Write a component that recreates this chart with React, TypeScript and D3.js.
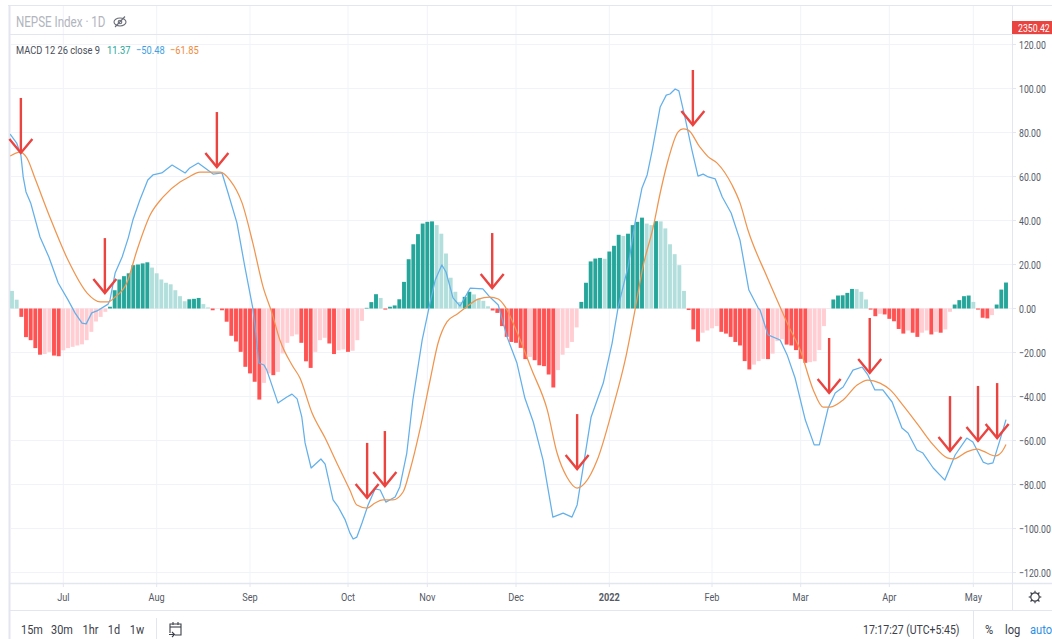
import React from "react";
import * as d3 from "d3";

const histogram = [
  8, 4, -3.8, -13, -14.4, -18, -21, -20.7, -19.7, -21.4,
  -21.7, -19, -18, -17.4, -16.8, -16.3, -14.4, -10.6, -5.9, -3.8,
  -1.5, 0.8, 8.3, 13.2, 14.7, 16, 19.7, 20, 20.5, 21,
  18.6, 16, 13.2, 11.7, 11, 8.3, 5.6, 3.3, 4.2, 4.4,
  4.8, 2, 0.5, -0.8, -0.1, -0.8, -6, -12.4, -15, -19.7,
  -26.5, -29.5, -33.3, -41.4, -33.8, -29.5, -30.3, -28.8, -20.4, -15.6,
  -12.6, -11.8, -15.6, -24, -27, -19.7, -14.4, -13.3, -15.9, -20.7,
  -19, -18.6, -19.7, -19.2, -14.4, -5.6, 0.3, 2.9, 6.5, 4.8,
  -0.5, 0.8, 1.4, 4.2, 12.1, 22.4, 29.2, 33.8, 38.6, 39.4,
  39.6, 37.9, 34, 25, 14, 7.6, 3, 5.3, 7.6, 6.4,
  4.4, 3.5, 1, -0.9, -2, -8, -12.9, -15.2, -15.6, -17.9,
  -23, -22, -23.5, -25.8, -26.2, -30, -35.9, -28, -21, -17.9,
  -15.2, -8.6, 3, 11.7, 21.4, 22.7, 23, 22.6, 25.9, 28.5,
  33.5, 33, 34, 37.9, 39.4, 41.3, 38.6, 37.9, 39.7, 39.6,
  36.4, 29.2, 24.7, 19.7, 8, -0.7, -9.5, -15, -11, -10,
  -9, -8, -10.6, -11.4, -12.9, -15.2, -16.8, -23.9, -27.7, -25.5,
  -23.9, -22.9, -23, -20.5, -14.8, -14, -16.4, -16.8, -18.9, -22.9,
  -24.7, -24.4, -24, -18.9, -8, -0.1, 4.1, 5.9, 6, 7.1,
  8.9, 8.8, 7.6, 4.1, -0.5, -3.5, -2.4, -2.7, -4.7, -5.8,
  -9.3, -11.4, -10, -11, -12.9, -11, -10, -11.8, -10.6, -11,
  -9.5, -1.5, 1.8, 3.8, 5.6, 5.9, 3, -0.5, -4.2, -4.5,
  -3, 1.8, 8.6, 11.8,
];

const macdBars = [
  -0.4, 1, 1.9, 2.4, 3, 4, 6, 7.9, 9.9, 12, 13.5, 15, 15.9, 17.1, 18.2, 20.6, 21, 22.1, 23.6, 24.9,
  25.9, 27.4, 29.1, 30.2, 32.1, 34.3, 37.1, 38.1, 39.9, 43.1, 45, 46.3, 48.2, 49.9, 51.6, 52.1, 52.9, 54, 54.6, 57,
  58.9, 60, 61.1, 62.1, 62.8, 64.1, 66.2, 67.1, 68.8, 69.9, 71.4, 72.4, 73.1, 73.9, 75, 76.3, 77.8, 78.9, 80.1, 82.1,
  83.1, 84.6, 85.9, 87.9, 89.4, 90.7, 92.1, 93, 94.5, 96, 98.2, 100.9, 102.4, 104.2, 106.1, 108.2, 109.9, 111.7, 113.8, 115.9,
  118.1, 120, 121.1, 122.4, 124.1, 126.7, 128.6, 129.9, 132, 133.5, 135, 136.1, 137.2, 138.9, 140.2, 141, 142.1, 142.9, 144.2, 145.7,
  147, 148.1, 149.2, 150.7, 152.2, 154.1, 156, 157.9, 159.9, 160.3, 162, 164.6, 166.1, 167.8, 170, 171.9, 173, 174.9, 176.4, 178.1,
  180.2, 182.2, 183.4, 184.9, 186.6, 188.6, 190.7, 192, 193.9, 195.2, 197.4, 199.9, 202.1, 204.6, 205.9, 208.1, 209.1, 210.2, 211.7, 213,
];
const macdValues = [
  79.3, 75.2, 69.8, 59.8, 53, 48, 32.5, 23.4, 11.6, 3.9, -2, -6.6, -7, -2, -1.1, 2, 3.9, 16.1, 23.4, 32,
  40.2, 49.3, 58.4, 60.7, 61.6, 65.2, 61.6, 63.9, 66.1, 61.1, 61.6, 52.5, 38.9, 18.9, 0.2, -8.4, -24.8, -25.7, -28, -43,
  -40.2, -38.9, -41.1, -49.3, -61.1, -72.5, -68.4, -70.7, -87, -90.2, -96.1, -102, -104.8, -103.9, -97.5, -89.3, -82, -82.5, -88, -85.7,
  -81.1, -65.7, -41.6, -14.3, 0.7, 13, 19.8, 16.6, 4.8, 1.1, 9.3, 8.9, 5.2, 1.6, -13, -24.8, -40.7, -51.6, -68.9, -94.8,
  -93, -94.8, -89.3, -72, -49.3, -33.9, -15.7, 0.7, 18.9, 38.9, 54.8, 60.7, 72, 91.6, 97, 97.5, 99.8, 98.9, 87, 72,
  60.2, 61.1, 59.8, 58.9, 50.7, 43.4, 31.1, 8.4, 0.2, -0.7, -12, -14.3, -21.1, -31.6, -50.7, -62, -62, -45.2, -38.4, -35.7,
  -28, -26.6, -30.2, -37, -37, -42.5, -54.3, -56.6, -64.3, -65.7, -72.5, -78, -66.6, -58.9, -60.7, -69.8, -70.7, -70.2, -59.8, -50.48,
];

const signalBars = [
  -0.4, 1.7, 3.2, 4.9, 8.1, 12, 16.1, 18.9, 20.6, 22.1, 24.6, 26.8, 29.6, 32.4, 36, 37.5, 40.3, 44.6, 46.7, 49.3,
  51.6, 53.8, 55.7, 57.4, 60, 61.7, 64.3, 67.1, 69.6, 72.4, 73.9, 76.1, 77.8, 79.5, 81.6, 83.8, 85.3, 87.4, 89.6, 91.3,
  93.2, 95.4, 97.1, 99.9, 102.4, 104.2, 105.7, 108.2, 111.4, 114.7, 116.8, 118.9, 121.1, 122.8, 125.4, 128.8, 131.4, 133.5, 135.2, 137.4,
  138.9, 140.6, 142.7, 143.8, 144.9, 147.4, 149.2, 151.1, 154.3, 156, 157.7, 161.8, 164.6, 166.3, 168.9, 171.7, 173.8, 175.3, 178.1, 181.1,
  183.4, 186, 188.2, 190.9, 194.2, 197.4, 200.4, 201.7, 204.6, 206.8, 208.1, 210.7, 212.1, 213,
];
const signalValues = [
  69.3, 71.1, 68.4, 59.3, 41.6, 22, 7, 3, 3, 5.2, 11.6, 26.6, 42.5, 50.7, 57.5, 59.3, 62, 62, 58.4, 48,
  29.8, 9.8, -2, -14.3, -25.7, -31.6, -47.5, -58.9, -70.2, -82.5, -89.3, -90.7, -88.4, -87, -87, -83.4, -73.4, -55.2, -32.5, -15.7,
  -6.1, -2.5, 0.2, 4.3, 5.2, 4.3, 0.7, -10.7, -28, -46.1, -65.7, -76.6, -81.6, -79.3, -68.9, -44.8, -23.4, -0.7, 18.9, 37,
  52.5, 67.5, 80.2, 81.6, 81.1, 73.4, 68.9, 66.1, 56.1, 48, 35.7, 14.3, 0.7, -7.5, -18.9, -37, -44.8, -44.8, -41.6, -34.8,
  -32.5, -33.9, -37, -43.9, -53, -62, -67.9, -68.4, -65.2, -63.9, -64.8, -67, -65.2, -61.85,
];

const arrowBars = [1.9, 19.9, 43.9, 76.1, 79.9, 102.9, 121.1, 145.9, 175.1, 183.8, 201, 207, 211.1];
const arrowValues = [70.7, 7, 64.3, -86.1, -80.7, 9.3, -73, 83.4, -38.4, -29.3, -64.8, -60.2, -58.9];

const yTicks = [120, 100, 80, 60, 40, 20, 0, -20, -40, -60, -80, -100, -120];
const monthLabels = ["Jul", "Aug", "Sep", "Oct", "Nov", "Dec", "2022", "Feb", "Mar", "Apr", "May"];
const monthBars = [11, 31, 51, 72, 89, 108, 128, 150, 169, 188, 206];
const intervals = ["15m", "30m", "1hr", "1d", "1w"];
const intervalX = [32, 62, 90.5, 114, 137];

const FONT = "Roboto, 'Open Sans', sans-serif";
const GRID = "#f1f3f9";
const BORDER = "#e3e6f0";
const AXIS_TEXT = "#555a66";
const BLUE = "#63b0ea";
const ORANGE = "#f0954f";
const RED = "#ea4440";

const x = d3.scaleLinear().domain([0, histogram.length - 1]).range([12, 1006]);
const y = d3.scaleLinear().domain([-120, 120]).range([572.5, 44.5]);

function barColor(v: number, prev: number | undefined) {
  const rising = prev !== undefined && v > prev;
  if (v >= 0) return rising ? "#26a69a" : "#b2dfdb";
  return rising ? "#ffcdd2" : "#ff5252";
}

function T({ x: tx, y: ty, s, size = 12, fill = AXIS_TEXT, anchor = "start", weight = 400, sx = 0.86 }: any) {
  return (
    <text
      transform={`translate(${tx},${ty}) scale(${sx},1)`}
      fontFamily={FONT}
      fontSize={size}
      fill={fill}
      fontWeight={weight}
      textAnchor={anchor}
    >
      {s}
    </text>
  );
}

function fmt(v: number) {
  return (v < 0 ? "\u2212" : "") + Math.abs(v).toFixed(2);
}

export default function App() {
  const pairs = (b: number[], v: number[]) => b.map((d, i) => [d, v[i]] as [number, number]);
  const macdLine = d3
    .line<[number, number]>()
    .x((d) => x(d[0]))
    .y((d) => y(d[1]));
  const signalLine = d3
    .line<[number, number]>()
    .x((d) => x(d[0]))
    .y((d) => y(d[1]))
    .curve(d3.curveMonotoneX);
  const barW = 3.9;
  const gearTeeth = d3.range(8).map((i) => (i * Math.PI) / 4);

  return (
    <svg
      width={1052}
      height={639}
      viewBox="0 0 1052 639"
      style={{ position: "absolute", left: 0, top: 0, display: "block", background: "#fff" }}
    >
      <defs>
        <clipPath id="pane">
          <rect x={10} y={35} width={1002} height={548} />
        </clipPath>
      </defs>

      {/* frame */}
      <line x1={8} x2={1052} y1={5.5} y2={5.5} stroke={BORDER} strokeWidth={1} />
      <line x1={9.5} x2={9.5} y1={5} y2={639} stroke={BORDER} strokeWidth={2} />

      {/* grid */}
      {monthBars.map((b) => (
        <line key={b} x1={x(b)} x2={x(b)} y1={6} y2={583} stroke={GRID} />
      ))}
      <line x1={10} x2={1052} y1={34.5} y2={34.5} stroke={BORDER} />
      {yTicks.map((t) => (
        <line key={t} x1={10} x2={1012} y1={y(t)} y2={y(t)} stroke={GRID} />
      ))}
      <line x1={10} x2={1052} y1={583.5} y2={583.5} stroke={BORDER} strokeWidth={1.5} />
      <line x1={10} x2={1052} y1={610.5} y2={610.5} stroke={BORDER} />
      <line x1={1012.5} x2={1012.5} y1={6} y2={610} stroke={BORDER} />
      <line x1={973.5} x2={973.5} y1={611} y2={639} stroke={BORDER} />
      <line x1={156.5} x2={156.5} y1={618} y2={639} stroke={BORDER} />

      {/* histogram */}
      {histogram.map((v, i) => (
        <rect
          key={i}
          x={x(i) - barW / 2}
          y={Math.min(y(v), y(0))}
          width={barW}
          height={Math.abs(y(v) - y(0))}
          fill={barColor(v, histogram[i - 1])}
        />
      ))}

      {/* lines */}
      <g clipPath="url(#pane)" fill="none" strokeLinejoin="round">
        <path d={macdLine(pairs(macdBars, macdValues)) as string} stroke={BLUE} strokeWidth={1.25} />
        <path d={signalLine(pairs(signalBars, signalValues)) as string} stroke={ORANGE} strokeWidth={1.25} />
      </g>

      {/* annotation arrows */}
      <g fill="none" stroke={RED} strokeWidth={2.4} strokeLinecap="butt" strokeLinejoin="miter">
        {arrowBars.map((b, i) => {
          const tx = x(b);
          const ty = y(arrowValues[i]);
          return (
            <g key={i}>
              <line x1={tx} x2={tx} y1={ty - 55} y2={ty} />
              <path d={`M${tx - 11.5},${ty - 14} L${tx},${ty} L${tx + 11.5},${ty - 14}`} />
            </g>
          );
        })}
      </g>

      {/* header */}
      <T x={16} y={27} s="NEPSE Index · 1D" size={14.5} fill="#b2b5be" sx={0.8} />
      <g transform="translate(120,22)" fill="none" stroke="#6a6d78" strokeWidth={1.1}>
        <ellipse cx={0} cy={0} rx={6} ry={4} />
        <circle cx={0} cy={0} r={1.8} />
        <line x1={-5} x2={5} y1={5} y2={-5.5} />
      </g>
      <T x={16} y={54} s="MACD 12 26 close 9" size={11.5} fill="#4a4e59" sx={0.81} />
      <T x={107} y={54} s="11.37" size={11.5} fill="#26a69a" sx={0.81} />
      <T x={136} y={54} s={"\u221250.48"} size={11.5} fill="#3f9fe0" sx={0.81} />
      <T x={170} y={54} s={"\u221261.85"} size={11.5} fill="#ef8a3c" sx={0.81} />

      {/* right axis */}
      {yTicks.map((t) => (
        <g key={t}>
          <line x1={1012} x2={1016} y1={y(t)} y2={y(t)} stroke={BORDER} />
          <T x={1019} y={y(t) + 4} s={fmt(t)} size={11.5} sx={0.76} />
        </g>
      ))}
      <rect x={1012} y={21} width={40} height={13} fill={RED} />
      <T x={1018} y={32} s="2350.42" size={11.5} fill="#fff" sx={0.76} />

      {/* time axis */}
      {monthLabels.map((m, i) => (
        <g key={m}>
          <line x1={x(monthBars[i])} x2={x(monthBars[i])} y1={583} y2={587} stroke={BORDER} />
          <T
            x={x(monthBars[i])}
            y={601}
            s={m}
            size={11.5}
            anchor="middle"
            sx={0.8}
            weight={m === "2022" ? 700 : 400}
          />
        </g>
      ))}
      <g transform="translate(1035,597)" fill="none" stroke="#3c404a" strokeWidth={1.2}>
        <circle r={4.2} />
        {gearTeeth.map((a) => (
          <line key={a} x1={Math.cos(a) * 4.2} y1={Math.sin(a) * 4.2} x2={Math.cos(a) * 6.3} y2={Math.sin(a) * 6.3} />
        ))}
      </g>

      {/* bottom toolbar */}
      {intervals.map((s, i) => (
        <T key={s} x={intervalX[i]} y={634} s={s} size={13} anchor="middle" fill="#3c404a" sx={0.84} />
      ))}
      <g transform="translate(169,622)" fill="none" stroke="#3c404a" strokeWidth={1.1}>
        <path d="M1,11 V2 H12 V13 H6" />
        <line x1={1} x2={12} y1={5} y2={5} />
        <line x1={4} x2={4} y1={0} y2={3} />
        <line x1={9} x2={9} y1={0} y2={3} />
        <path d="M0,12.5 H5 M3,10 L5.5,12.5 L3,15" />
      </g>
      <T x={863} y={634} s="17:17:27 (UTC+5:45)" size={13} fill="#3c404a" sx={0.81} />
      <T x={985} y={634} s="%" size={13} fill="#3c404a" />
      <T x={1005} y={634} s="log" size={13} fill="#3c404a" />
      <T x={1030} y={634} s="auto" size={13} fill="#2f8fe6" />
    </svg>
  );
}
